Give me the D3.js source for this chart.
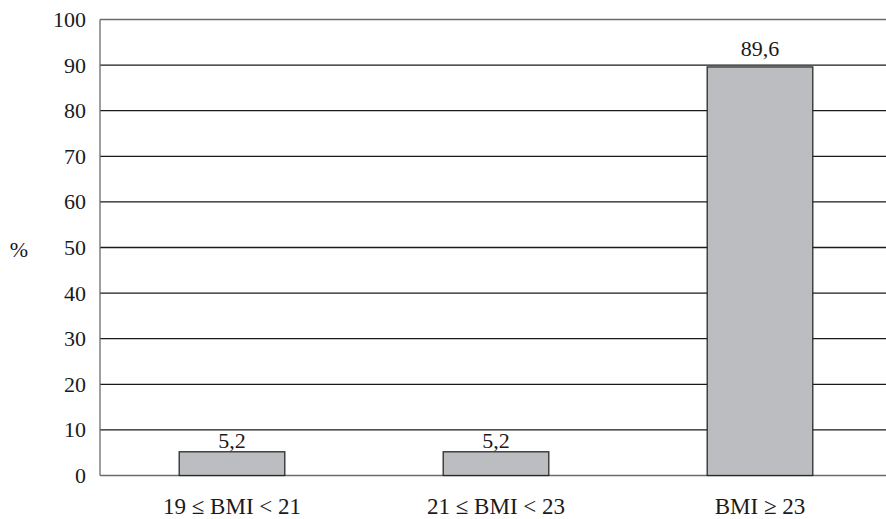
<!DOCTYPE html>
<html>
<head>
<meta charset="utf-8">
<script src="https://cdn.jsdelivr.net/npm/d3@7"></script>
<style>
  body { margin: 0; background: #fff; }
  svg { display: block; }
</style>
</head>
<body>
<svg id="drawing_region"></svg>
<script>
const categories = ['19 \u2264 BMI < 21', '21 \u2264 BMI < 23', 'BMI \u2265 23'];
const values = [5.2, 5.2, 89.6];
const valueLabels = ['5,2', '5,2', '89,6'];
const yTicks = [0, 10, 20, 30, 40, 50, 60, 70, 80, 90, 100];

const width = 886, height = 519;
const margin = {top: 19.5, right: -6, bottom: 43.5, left: 100};
const innerW = width - margin.left - margin.right;
const innerH = height - margin.top - margin.bottom;

const font = 'Liberation Serif';

const svg = d3.select('#drawing_region')
    .attr('width', width)
    .attr('height', height);

const chart = svg.append('g')
    .attr('transform', `translate(${margin.left}, ${margin.top})`);

const xscale = d3.scaleBand()
    .domain(categories)
    .range([0, innerW])
    .paddingInner(0.6)
    .paddingOuter(0.3);

const yscale = d3.scaleLinear()
    .domain([0, 100])
    .range([innerH, 0]);

// gridlines
chart.selectAll('line.grid')
    .data(yTicks)
    .enter()
    .append('line')
    .attr('class', 'grid')
    .attr('x1', 0)
    .attr('x2', innerW)
    .attr('y1', d => yscale(d))
    .attr('y2', d => yscale(d))
    .attr('stroke', d => (d === 0 || d === 100) ? '#6b6b6b' : '#1a1a1a')
    .attr('stroke-width', 1.3);

// left axis line
chart.append('line')
    .attr('x1', 0).attr('x2', 0)
    .attr('y1', yscale(0)).attr('y2', yscale(100))
    .attr('stroke', '#6b6b6b')
    .attr('stroke-width', 1.3);

// y tick labels
const yaxis = d3.axisLeft(yscale)
    .tickValues(yTicks)
    .tickSize(0)
    .tickPadding(14);

const yaxis_group = chart.append('g').call(yaxis);
yaxis_group.attr('font-family', font).attr('font-size', 22);
yaxis_group.select('.domain').remove();
yaxis_group.selectAll('text')
    .style('font-family', font)
    .attr('fill', '#1a1a1a');

// x labels
const xaxis = d3.axisBottom(xscale).tickSize(0).tickPadding(22);
const xaxis_group = chart.append('g')
    .attr('transform', `translate(0, ${innerH})`)
    .call(xaxis);
xaxis_group.attr('font-family', font).attr('font-size', 23);
xaxis_group.select('.domain').remove();
xaxis_group.selectAll('text')
    .style('font-family', font)
    .attr('fill', '#1a1a1a');

// bars
chart.selectAll('rect.bar')
    .data(values)
    .enter()
    .append('rect')
    .attr('class', 'bar')
    .attr('x', (d, i) => xscale(categories[i]))
    .attr('y', d => yscale(d))
    .attr('width', xscale.bandwidth())
    .attr('height', d => innerH - yscale(d))
    .attr('fill', '#bcbdc0')
    .attr('stroke', '#2a2a2a')
    .attr('stroke-width', 1.3);

// value labels
chart.selectAll('text.val')
    .data(values)
    .enter()
    .append('text')
    .attr('class', 'val')
    .attr('x', (d, i) => xscale(categories[i]) + xscale.bandwidth() / 2)
    .attr('y', d => yscale(d) - (d > 50 ? 11 : 4))
    .attr('text-anchor', 'middle')
    .style('font-family', font)
    .attr('font-size', 22)
    .attr('fill', '#1a1a1a')
    .text((d, i) => valueLabels[i]);

// y axis title
svg.append('text')
    .attr('x', 19)
    .attr('y', 257)
    .attr('text-anchor', 'middle')
    .style('font-family', font)
    .attr('font-size', 22)
    .attr('fill', '#1a1a1a')
    .text('%');
</script>
</body>
</html>
